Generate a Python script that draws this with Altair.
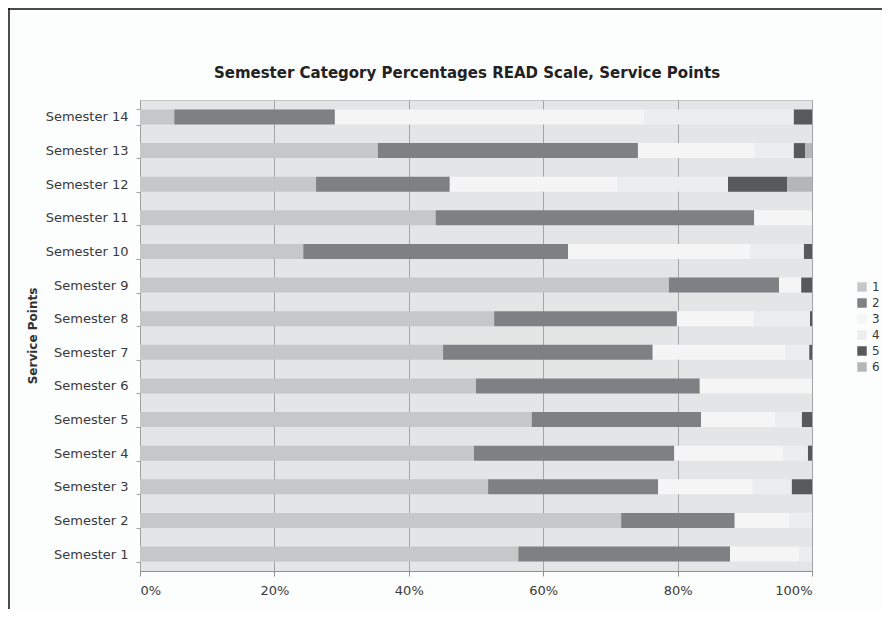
import altair as alt
import pandas as pd

semesters = [f"Semester {i}" for i in range(1, 15)]
categories = ["1", "2", "3", "4", "5", "6"]

# percentage of each category per semester (Semester 1 .. Semester 14)
cat1 = [56.3, 71.6, 51.8, 49.7, 58.3, 50.0, 45.1, 52.7, 78.7, 24.3, 44.0, 26.2, 35.4, 5.1]
cat2 = [31.5, 16.9, 25.3, 29.8, 25.2, 33.3, 31.2, 27.2, 16.4, 39.4, 47.4, 19.9, 38.7, 23.9]
cat3 = [10.3, 8.1, 14.1, 16.2, 11.0, 16.7, 19.8, 11.5, 3.3, 27.1, 8.6, 25.0, 17.4, 46.0]
cat4 = [1.9, 3.4, 5.8, 3.7, 4.0, 0.0, 3.5, 8.3, 0.0, 8.0, 0.0, 16.4, 5.8, 22.3]
cat5 = [0.0, 0.0, 3.0, 0.6, 1.5, 0.0, 0.4, 0.3, 1.6, 1.2, 0.0, 8.8, 1.7, 2.7]
cat6 = [0.0, 0.0, 0.0, 0.0, 0.0, 0.0, 0.0, 0.0, 0.0, 0.0, 0.0, 3.7, 1.0, 0.0]

colors = ["#c6c7c9", "#7f8083", "#f5f5f5", "#ecedef", "#58595b", "#b5b6b8"]

series = [cat1, cat2, cat3, cat4, cat5, cat6]
rows = []
for ci, (cat, vals) in enumerate(zip(categories, series)):
    for s, v in zip(semesters, vals):
        rows.append({"semester": s, "category": cat, "order": ci, "value": v})
df = pd.DataFrame(rows)

font = "DejaVu Sans"
sort_order = list(reversed(semesters))

bars = alt.Chart(df).mark_bar(size=15).encode(
    y=alt.Y("semester:N", sort=sort_order,
            scale=alt.Scale(paddingInner=0.55, paddingOuter=0.28),
            axis=alt.Axis(title="Service Points", tickBand="extent", grid=False,
                          domainColor="#a0a0a0", tickColor="#a0a0a0", tickSize=4,
                          labelPadding=8, labelFont=font, labelFontSize=13,
                          labelColor="#3a3a3a", titleFont=font, titleFontSize=12,
                          titleFontWeight="bold", titleColor="#333333",
                          titlePadding=6)),
    x=alt.X("value:Q", stack="normalize",
            scale=alt.Scale(domain=[0, 1], nice=False),
            axis=alt.Axis(title=None, format="%", values=[0, 0.2, 0.4, 0.6, 0.8, 1.0],
                          grid=True, gridColor="#a4a4a4", domainColor="#909090",
                          tickColor="#909090", tickSize=5, labelPadding=8,
                          labelFont=font, labelFontSize=13, labelColor="#3a3a3a")),
    color=alt.Color("category:N", sort=categories,
                    scale=alt.Scale(domain=categories, range=colors),
                    legend=alt.Legend(title=None, orient="none", legendX=716, legendY=181,
                                      symbolType="square", symbolSize=90,
                                      symbolStrokeWidth=0, labelFont=font,
                                      labelFontSize=12, labelColor="#3a3a3a",
                                      rowPadding=4)),
    order=alt.Order("order:Q", sort="ascending"),
)

border = alt.Chart(pd.DataFrame({"a": [0]})).mark_rule(color="#111111", strokeWidth=1.5).encode(
    x=alt.value(-132), x2=alt.value(754), y=alt.value(-91), y2=alt.value(-91))
border2 = alt.Chart(pd.DataFrame({"a": [0]})).mark_rule(color="#111111", strokeWidth=1.5).encode(
    x=alt.value(-131), x2=alt.value(-131), y=alt.value(-92), y2=alt.value(518))

chart = alt.layer(bars, border, border2).properties(
    width=672, height=471,
    title=alt.TitleParams("Semester Category Percentages READ Scale, Service Points",
                          font=font, fontSize=15, fontWeight="bold", color="#222222",
                          offset=20, dx=-9, dy=94),
    autosize=alt.AutoSizeParams(type="none"),
    padding={"left": 132, "top": 92, "right": 70, "bottom": 38},
    background="#fcfdfd",
).configure_view(fill="#e4e5e7", stroke="#c4c4c4")

chart.save("out.html", embed_options={"renderer": "svg", "actions": False})
